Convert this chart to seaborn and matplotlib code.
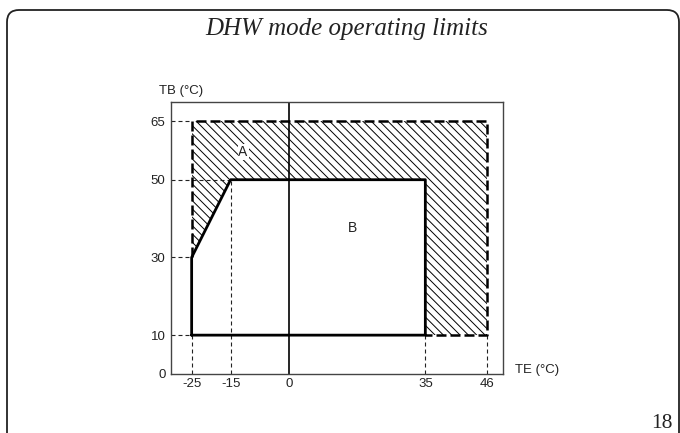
import numpy as np
import matplotlib
matplotlib.use("Agg")
import matplotlib.pyplot as plt
import seaborn as sns
from matplotlib.patches import FancyBboxPatch

# ---- data ----
te_b = [-25, -25, -15, 35, 35, -25]          # region B boundary (TE)
tb_b = [10, 30, 50, 50, 10, 10]              # region B boundary (TB)
te_a = [-25, -25, 46, 46, 35]                # region A outer dashed boundary
tb_a = [30, 65, 65, 10, 10]
hatch_te = [-25, -25, 46, 46, 35, 35, -15]   # hatched region A
hatch_tb = [30, 65, 65, 10, 10, 50, 50]
xticks = [-25, -15, 0, 35, 46]
yticks = [0, 10, 30, 50, 65]
ref_y = [10, 30, 50, 65]
ref_y_end = [-25, -25, -15, -25]
ref_x = [-25, -15, 35, 46]
ref_x_top = [10, 50, 10, 10]
title = "DHW mode operating limits"
page = "18"

sns.set_theme(style="white")
plt.rcParams["font.family"] = ["Liberation Sans", "DejaVu Sans"]
plt.rcParams["axes.unicode_minus"] = False
plt.rcParams["hatch.linewidth"] = 0.7

K = 1.445  # schematic stretch beyond 35 degC


def fwd(x):
    x = np.asarray(x, dtype=float)
    return np.where(x <= 35, x, 35 + (x - 35) * K)


def inv(y):
    y = np.asarray(y, dtype=float)
    return np.where(y <= 35, y, 35 + (y - 35) / K)


fig = plt.figure(figsize=(6.8, 4.33), dpi=100)
ax = fig.add_axes([171 / 680, 1 - 374 / 433, 332 / 680, 272 / 433])
ax.set_xscale("function", functions=(fwd, inv))
XL = (-30.3, 48.8)
ax.set_xlim(*XL)
ax.set_ylim(0, 70)

# hatched region A
ax.fill(hatch_te, hatch_tb, facecolor="none", edgecolor="black",
        linewidth=0, hatch="\\\\\\\\")

# thin dashed reference lines
thin = dict(color="#222222", lw=0.8, linestyle=(0, (3.6, 2.7)))
for y, xe in zip(ref_y, ref_y_end):
    ax.plot([XL[0], xe], [y, y], **thin)
for x, yt in zip(ref_x, ref_x_top):
    ax.plot([x, x], [0, yt], **thin)

# x = 0 vertical line
ax.axvline(0, color="black", lw=1.2)

# region A dashed boundary
ax.plot(te_a, tb_a, color="black", lw=1.8, linestyle=(0, (4.0, 1.6)))

# region B solid boundary
sns.lineplot(x=te_b, y=tb_b, sort=False, estimator=None, color="black",
             lw=2.0, ax=ax)

ax.text(-11.8, 57.2, "A", ha="center", va="center", fontsize=10,
        color="#222222", zorder=5,
        bbox=dict(facecolor="white", edgecolor="none", pad=0.6))
ax.text(16.2, 37.7, "B", ha="center", va="center", fontsize=10, color="#222222")

ax.set_xticks(xticks)
ax.set_xticklabels([str(v) for v in xticks])
ax.set_yticks(yticks)
ax.set_yticklabels([str(v) for v in yticks])
ax.tick_params(axis="both", length=0, labelsize=9.5, colors="#222222")
ax.tick_params(axis="x", pad=3)
ax.tick_params(axis="y", pad=4)
for s in ax.spines.values():
    s.set_color("#444444")
    s.set_linewidth(1.0)
ax.set_xlabel("")
ax.set_ylabel("")

fig.text(159 / 680, 1 - 91 / 433, "TB (°C)", ha="left", va="center",
         fontsize=9.5, color="#222222")
fig.text(515 / 680, 1 - 370 / 433, "TE (°C)", ha="left", va="center",
         fontsize=9.5, color="#222222")

fig.text(346.5 / 680, 1 - 35.5 / 433, title, ha="center", va="baseline",
         fontsize=18, style="italic",
         family=["Liberation Serif", "DejaVu Serif"], color="#222222")
fig.text(673 / 680, 1 - 428 / 433, page, ha="right", va="baseline",
         fontsize=15.5, family=["Liberation Serif", "DejaVu Serif"],
         color="#222222")

border = FancyBboxPatch((0.07, -0.6), 6.72, 4.23 + 0.6,
                        boxstyle="round,pad=0,rounding_size=0.12",
                        transform=fig.dpi_scale_trans, facecolor="none",
                        edgecolor="#222222", lw=1.3, clip_on=False)
fig.add_artist(border)

fig.savefig("out.png", dpi=100)
